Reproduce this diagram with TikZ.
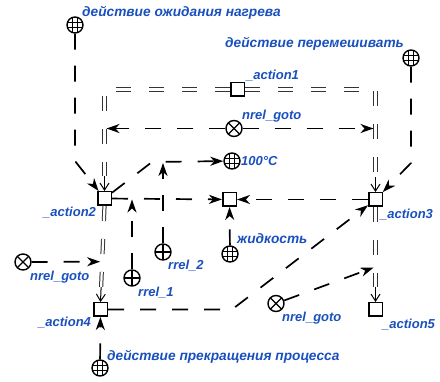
\documentclass[tikz,border=0pt]{standalone}
\usepackage{fontspec}
\setmainfont{Liberation Sans}
\usetikzlibrary{calc}
\usetikzlibrary{positioning, arrows.meta}
\definecolor{lblblue}{RGB}{25,80,190}

\begin{document}
\begin{tikzpicture}[x=1pt, y=-1pt]
        % Define styles for shapes
        \tikzstyle{actnode} = [draw, line width=1.5pt, fill=white, minimum size=13.5pt, inner sep=0pt]
        \tikzstyle{roundnode} = [draw, circle, line width=1.4pt, fill=white, minimum size=16pt, inner sep=0pt]
        \tikzstyle{classnode} = [roundnode, path picture={
            \foreach \d in {-2.8pt, 2.8pt} {
                \draw[line width=0.9pt] ($(path picture bounding box.center)+(\d,-9pt)$) -- ++(0pt,18pt);
                \draw[line width=0.9pt] ($(path picture bounding box.center)+(-9pt,\d)$) -- ++(18pt,0pt);
            }}]
        \tikzstyle{nrelnode} = [roundnode, path picture={
            \draw[line width=1.1pt] (path picture bounding box.north west) -- (path picture bounding box.south east)
                (path picture bounding box.north east) -- (path picture bounding box.south west);}]
        \tikzstyle{rrelnode} = [roundnode, path picture={
            \draw[line width=1.1pt] (path picture bounding box.north) -- (path picture bounding box.south)
                (path picture bounding box.east) -- (path picture bounding box.west);}]
        \tikzstyle{lbl} = [anchor=base west, inner sep=0pt, text=lblblue, font=\fontsize{13}{15}\selectfont\bfseries\itshape]
        \tikzstyle{ruslbl} = [lbl, font=\fontsize{13.7}{16}\selectfont\bfseries\itshape]
        \tikzstyle{access} = [draw, line width=1.7pt, dash pattern=on 16pt off 16pt, -{Stealth[length=13pt, width=9pt, inset=4pt]}]
        \tikzstyle{commonarc} = [draw=black!80, line width=1pt, double, double distance=2.2pt, dash pattern=on 15pt off 18pt]
        \tikzstyle{commontip} = [draw, line width=1pt, -{Straight Barb[length=7pt, width=9pt]}]

        \useasboundingbox (0,0) rectangle (440,382);

        % Draw shapes
        \node[classnode] (heat) at (75,25) {};
        \node[classnode] (mix) at (411,58) {};
        \node[actnode] (act1) at (237.5,89.5) {};
        \node[nrelnode] (gotoA) at (234,128.5) {};
        \node[classnode] (hot) at (232,161) {};
        \node[actnode] (act2) at (104.5,198.5) {};
        \node[actnode] (liq) at (229.5,199.5) {};
        \node[actnode] (act3) at (375.5,199.5) {};
        \node[rrelnode] (r2) at (163,252) {};
        \node[classnode] (fluid) at (230,254) {};
        \node[nrelnode] (gotoB) at (23,262) {};
        \node[rrelnode] (r1) at (132,278) {};
        \node[nrelnode] (gotoC) at (276,303.5) {};
        \node[actnode] (act4) at (100.5,309.5) {};
        \node[actnode] (act5) at (375.5,309.5) {};
        \node[classnode] (stop) at (100,368) {};

        % Labels
        \node[ruslbl] (heatlbl) at (82,17) {действие ожидания нагрева};
        \node[ruslbl] (mixlbl) at (225,48) {действие перемешивать};
        \node[lbl] (act1lbl) at (246,80) {\_action1};
        \node[lbl] (gotoAlbl) at (242,120) {nrel\_goto};
        \node[lbl] (hotlbl) at (241,166) {100°C};
        \node[lbl] (act2lbl) at (43,217) {\_action2};
        \node[lbl] (act3lbl) at (380,219) {\_action3};
        \node[ruslbl] (fluidlbl) at (237,244) {жидкость};
        \node[lbl] (r2lbl) at (168,270) {rrel\_2};
        \node[lbl] (gotoBlbl) at (30,281) {nrel\_goto};
        \node[lbl] (r1lbl) at (138,297) {rrel\_1};
        \node[lbl] (gotoClbl) at (282,322) {nrel\_goto};
        \node[lbl] (act4lbl) at (38,327) {\_action4};
        \node[lbl] (act5lbl) at (382,329) {\_action5};
        \node[ruslbl] (stoplbl) at (107,361) {действие прекращения процесса};

        % Bend points
        \coordinate (tl) at (104.5,89.5);
        \coordinate (tr) at (375.5,89.5);
        \coordinate (heatbend) at (75,161);
        \coordinate (mixbend) at (411,163);
        \coordinate (hotbend) at (152,162);
        \coordinate (act4bend) at (232,309.5);

        % Draw double arcs
        \draw[commonarc] (act1.west) -- (tl) -- ($(act2.north)!15pt!(tl)$);
        \draw[commontip] ($(act2.north)!15pt!(tl)$) -- (act2.north);
        \draw[commonarc] (act1.east) -- (tr) -- ($(act3.north)!15pt!(tr)$);
        \draw[commontip] ($(act3.north)!15pt!(tr)$) -- (act3.north);
        \draw[commonarc] (act2.south) -- ($(act4.north)!15pt!(act2.south)$);
        \draw[commontip] ($(act4.north)!15pt!(act2.south)$) -- (act4.north);
        \draw[commonarc] (act3.south) -- ($(act5.north)!15pt!(act3.south)$);
        \draw[commontip] ($(act5.north)!15pt!(act3.south)$) -- (act5.north);

        % Draw arrows
        \draw[access] (heat) -- (heatbend) -- (act2);
        \draw[access] (mix) -- (mixbend) -- (act3);
        \draw[access] (act2) -- (hotbend) -- (hot);
        \draw[access] (act2) -- (liq);
        \draw[access] (act3) -- (liq);
        \draw[access] (fluid) -- (liq);
        \draw[access, shorten >=1pt] (r2) -- (r2 |- hotbend);
        \draw[access, shorten >=1pt] (r1) -- (r1 |- act2);
        \draw[access, shorten >=2pt] (gotoA) -- (gotoA -| tl);
        \draw[access, shorten >=2pt] (gotoA) -- (gotoA -| tr);
        \draw[access, shorten >=2pt] (gotoB) -- ($(act2.south)!0.58!(act4.north)$);
        \draw[access] (act4) -- (act4bend) -- (act3);
        \draw[access, shorten >=2pt] (gotoC) -- ($(act3.south)!0.63!(act5.north)$);
        \draw[access] (stop) -- (act4);
\end{tikzpicture}
\end{document}
